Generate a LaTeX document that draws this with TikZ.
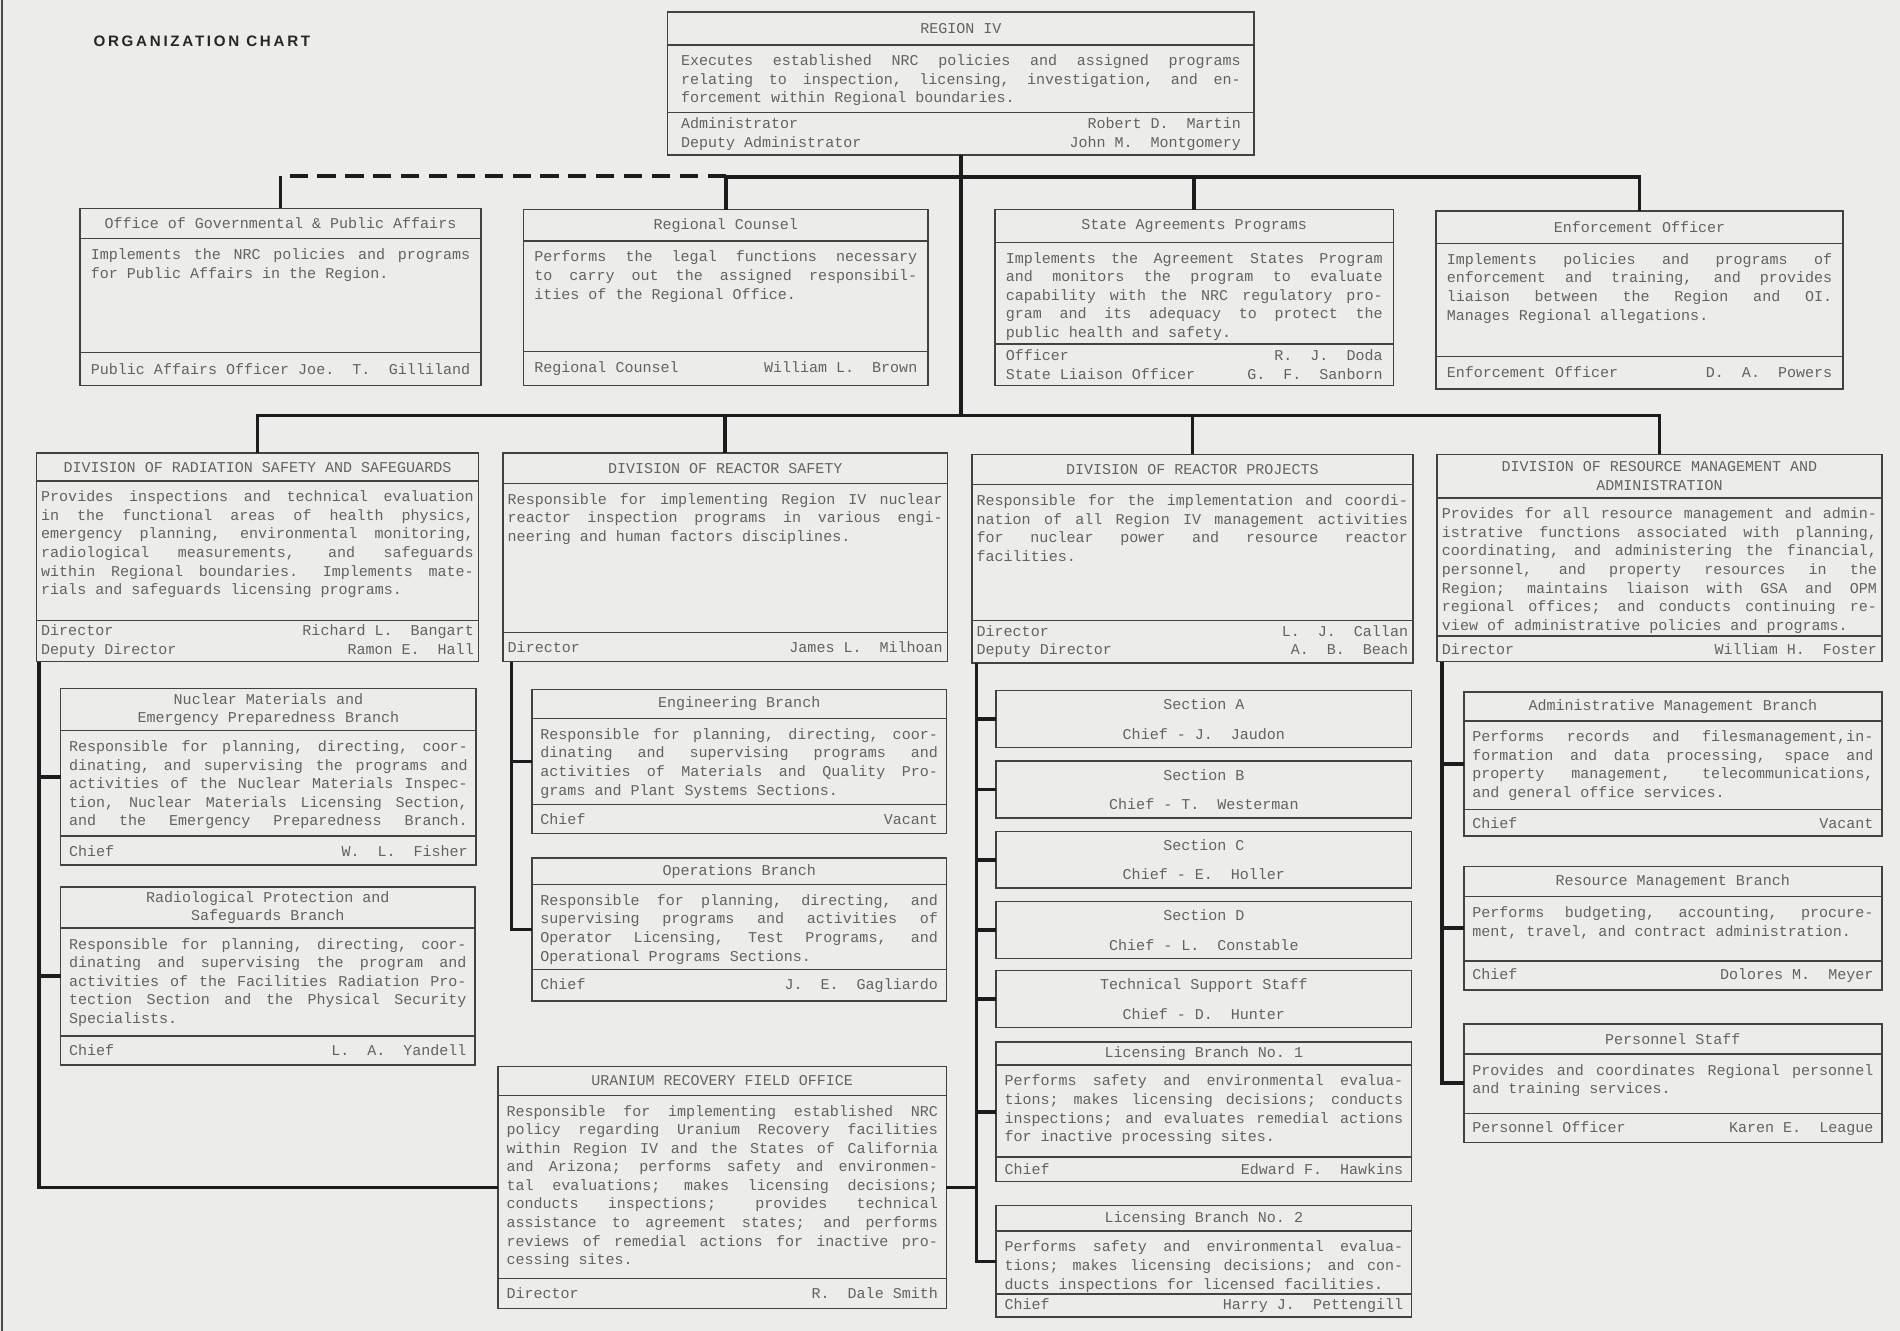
\documentclass[tikz,border=0pt]{standalone}
\usepackage{fontspec}
\usetikzlibrary{positioning,calc}
\newfontfamily\chartmono{Liberation Mono}
\newfontfamily\chartsans{Liberation Sans}[LetterSpace=18]
\definecolor{paper}{RGB}{236,236,234}
\definecolor{inkline}{RGB}{66,66,66}
\definecolor{inktext}{RGB}{98,98,98}
\definecolor{inkconn}{RGB}{28,28,28}
% typewriter spacing: two spaces after a full stop, also after capitals
\count255=`A
\loop \sfcode\count255=1000 \advance\count255 by 1 \ifnum\count255<`[ \repeat
\newcommand{\boxfont}{\chartmono\fontsize{12.4}{15.3}\selectfont\nonfrenchspacing
  \spaceskip=0.6em plus 3em minus 0.05em\relax
  \xspaceskip=1.2em plus 3em minus 0.05em\relax
  \hyphenpenalty=10000\tolerance=10000\relax}
\newcommand{\ttlspace}{\spaceskip=0.6em\relax\xspaceskip=1.2em\relax}
\def\upad{8}
% one unit: name, (x,y) top left, width, title/desc/footer heights, texts
\newcommand{\orgunit}[9]{%
  \pgfmathsetmacro\uH{#4+#5+#6}%
  \pgfmathsetmacro\uT{#3-2*\upad}%
  \node[unitbox, minimum width=#3pt, minimum height=\uH pt] (#1) at #2 {};
  \draw[sepline] ([yshift=-#4]#1.north west) -- ([yshift=-#4]#1.north east);
  \draw[sepline] ([yshift=#6]#1.south west) -- ([yshift=#6]#1.south east);
  \node[ttltext, text width=\uT pt] (#1-t) at ([yshift=-#4/2]#1.north) {\ttlspace #7};
  \node[dsctext, text width=\uT pt] (#1-d) at ([yshift=-#4-8]#1.north) {#8};
  \node[ftrtext, text width=\uT pt] (#1-f) at ([yshift=#6/2]#1.south) {#9};
}

\begin{document}
\begin{tikzpicture}[x=1pt, y=-1pt,
    unitbox/.style={draw=inkline, line width=1.2pt, anchor=north west, inner sep=0pt, outer sep=0pt},
    sepline/.style={draw=inkline, line width=1.2pt},
    ttltext/.style={font=\boxfont, text=inktext, align=center, inner sep=0pt},
    dsctext/.style={font=\boxfont, text=inktext, align=justify, inner sep=0pt, anchor=north},
    ftrtext/.style={font=\boxfont, text=inktext, align=justify, inner sep=0pt},
    secbox/.style={unitbox, font=\boxfont, text=inktext, align=center, minimum width=343pt, minimum height=47pt},
    conn/.style={draw=inkconn, line width=3pt},
    charttitle/.style={font=\chartsans\bfseries\fontsize{12.5}{14}\selectfont, text=black!85, anchor=west, inner sep=0pt}]

  \fill[paper] (0,0) rectangle (1568,1098);
  \useasboundingbox (0,0) rectangle (1568,1098);
  \draw[black!70, line width=1.5pt] (1.5,0) -- (1.5,1098);

  \node[charttitle] (chartttl) at (77,34) {ORGANIZATION CHART};

  % Region
  \def\upad{11}
  \orgunit{rIV}{(551,10)}{484}{27}{56}{35}{REGION IV}
    {Executes established NRC policies and assigned programs\linebreak
     relating to inspection, licensing, investigation, and en-\linebreak
     forcement within Regional boundaries.}
    {Administrator\hfill Robert D. Martin\\Deputy Administrator\hfill John M. Montgomery}

  % Staff offices
  \def\upad{9}
  \orgunit{ogpa}{(66,172)}{331}{25}{94}{27}{Office of Governmental \& Public Affairs}
    {Implements the NRC policies and programs\linebreak
     for Public Affairs in the Region.}
    {Public Affairs Officer Joe. T.\hfill Gilliland}
  \orgunit{rc}{(432,173)}{334}{26}{91}{28}{Regional Counsel}
    {Performs the legal functions necessary\linebreak
     to carry out the assigned responsibil-\linebreak
     ities of the Regional Office.}
    {Regional Counsel\hfill William L. Brown}
  \orgunit{sap}{(821,173)}{329}{27}{84}{34}{State Agreements Programs}
    {Implements the Agreement States Program\linebreak
     and monitors the program to evaluate\linebreak
     capability with the NRC regulatory pro-\linebreak
     gram and its adequacy to protect the\linebreak
     public health and safety.}
    {Officer\hfill R. J. Doda\\State Liaison Officer\hfill G. F. Sanborn}
  \orgunit{enf}{(1185,174)}{336}{27}{93}{27}{Enforcement Officer}
    {Implements policies and programs of\linebreak
     enforcement and training, and provides\linebreak
     liaison between the Region and OI.\linebreak
     Manages Regional allegations.}
    {Enforcement Officer\hfill D. A. Powers}

  % Divisions
  \def\upad{4}
  \orgunit{drss}{(30,374)}{365}{23}{115}{34}{DIVISION OF RADIATION SAFETY AND SAFEGUARDS}
    {Provides inspections and technical evaluation\linebreak
     in the functional areas of health physics,\linebreak
     emergency planning, environmental monitoring,\linebreak
     radiological measurements, and safeguards\linebreak
     within Regional boundaries. Implements mate-\linebreak
     rials and safeguards licensing programs.}
    {Director\hfill Richard L. Bangart\\Deputy Director\hfill Ramon E. Hall}
  \orgunit{drs}{(415,374)}{367}{25}{123}{24}{DIVISION OF REACTOR SAFETY}
    {Responsible for implementing Region IV nuclear\linebreak
     reactor inspection programs in various engi-\linebreak
     neering and human factors disciplines.}
    {Director\hfill James L. Milhoan}
  \orgunit{drp}{(802,375)}{364}{25}{112}{35}{DIVISION OF REACTOR PROJECTS}
    {Responsible for the implementation and coordi-\linebreak
     nation of all Region IV management activities\linebreak
     for nuclear power and resource reactor\linebreak
     facilities.}
    {Director\hfill L. J. Callan\\Deputy Director\hfill A. B. Beach}
  \orgunit{drma}{(1186,375)}{367}{36}{114}{21}{DIVISION OF RESOURCE MANAGEMENT AND\\ADMINISTRATION}
    {Provides for all resource management and admin-\linebreak
     istrative functions associated with planning,\linebreak
     coordinating, and administering the financial,\linebreak
     personnel, and property resources in the\linebreak
     Region; maintains liaison with GSA and OPM\linebreak
     regional offices; and conducts continuing re-\linebreak
     view of administrative policies and programs.}
    {Director\hfill William H. Foster}

  % Branches
  \def\upad{7}
  \orgunit{nmep}{(50,568)}{343}{35}{87}{24}{Nuclear Materials and\\Emergency Preparedness Branch}
    {Responsible for planning, directing, coor-\linebreak
     dinating, and supervising the programs and\linebreak
     activities of the Nuclear Materials Inspec-\linebreak
     tion, Nuclear Materials Licensing Section,\linebreak
     and the Emergency Preparedness Branch.\linebreak\null}
    {Chief\hfill W. L. Fisher}
  \orgunit{rpsb}{(50,732)}{342}{34}{89}{24}{Radiological Protection and\\Safeguards Branch}
    {Responsible for planning, directing, coor-\linebreak
     dinating and supervising the program and\linebreak
     activities of the Facilities Radiation Pro-\linebreak
     tection Section and the Physical Security\linebreak
     Specialists.}
    {Chief\hfill L. A. Yandell}
  \orgunit{eng}{(439,569)}{342}{24}{71}{24}{Engineering Branch}
    {Responsible for planning, directing, coor-\linebreak
     dinating and supervising programs and\linebreak
     activities of Materials and Quality Pro-\linebreak
     grams and Plant Systems Sections.}
    {Chief\hfill Vacant}
  \orgunit{ops}{(439,708)}{342}{22}{70}{26}{Operations Branch}
    {Responsible for planning, directing, and\linebreak
     supervising programs and activities of\linebreak
     Operator Licensing, Test Programs, and\linebreak
     Operational Programs Sections.}
    {Chief\hfill J. E. Gagliardo}
  \orgunit{urfo}{(411,880)}{370}{24}{151}{25}{URANIUM RECOVERY FIELD OFFICE}
    {Responsible for implementing established NRC\linebreak
     policy regarding Uranium Recovery facilities\linebreak
     within Region IV and the States of California\linebreak
     and Arizona; performs safety and environmen-\linebreak
     tal evaluations; makes licensing decisions;\linebreak
     conducts inspections; provides technical\linebreak
     assistance to agreement states; and performs\linebreak
     reviews of remedial actions for inactive pro-\linebreak
     cessing sites.}
    {Director\hfill R. Dale Smith}

  \node[secbox] (secA) at (822,570) {Section A\\[9pt]Chief - J. Jaudon};
  \node[secbox] (secB) at (822,628) {Section B\\[9pt]Chief - T. Westerman};
  \node[secbox] (secC) at (822,686) {Section C\\[9pt]Chief - E. Holler};
  \node[secbox] (secD) at (822,744) {Section D\\[9pt]Chief - L. Constable};
  \node[secbox] (tss) at (822,801) {Technical Support Staff\\[9pt]Chief - D. Hunter};

  \orgunit{lb1}{(822,860)}{343}{19}{76}{20}{Licensing Branch No.\ 1}
    {Performs safety and environmental evalua-\linebreak
     tions; makes licensing decisions; conducts\linebreak
     inspections; and evaluates remedial actions\linebreak
     for inactive processing sites.}
    {Chief\hfill Edward F. Hawkins}
  \orgunit{lb2}{(822,995)}{343}{21}{52}{19}{Licensing Branch No.\ 2}
    {Performs safety and environmental evalua-\linebreak
     tions; makes licensing decisions; and con-\linebreak
     ducts inspections for licensed facilities.}
    {Chief\hfill Harry J. Pettengill}

  \orgunit{amb}{(1208,571)}{345}{24}{73}{22}{Administrative Management Branch}
    {Performs records and filesmanagement,in-\linebreak
     formation and data processing, space and\linebreak
     property management, telecommunications,\linebreak
     and general office services.}
    {Chief\hfill Vacant}
  \orgunit{rmb}{(1208,715)}{345}{25}{53}{24}{Resource Management Branch}
    {Performs budgeting, accounting, procure-\linebreak
     ment, travel, and contract administration.}
    {Chief\hfill Dolores M. Meyer}
  \orgunit{pers}{(1208,845)}{345}{25}{49}{24}{Personnel Staff}
    {Provides and coordinates Regional personnel\linebreak
     and training services.}
    {Personnel Officer\hfill Karen E. League}

  % Connectors: staff level
  \draw[conn] (rIV.south) -- (rIV.south |- 0,343);
  \draw[conn] (rc.north) -- (rc.north |- 0,146) -- (enf.north |- 0,146) -- (enf.north);
  \draw[conn] (sap.north |- 0,146) -- (sap.north);
  \draw[conn, dash pattern=on 15pt off 8pt] (rc.north |- 0,145) -- (ogpa.north |- 0,145);
  \draw[conn] (ogpa.north |- 0,145) -- (ogpa.north);

  % Connectors: divisions
  \draw[conn] (drss.north) -- (drss.north |- 0,343) -- (drma.north |- 0,343) -- (drma.north);
  \draw[conn] (drs.north |- 0,343) -- (drs.north);
  \draw[conn] (drp.north |- 0,343) -- (drp.north);

  % Connectors: branches
  \coordinate (drssL) at ([xshift=2]drss.south west);
  \draw[conn] (drssL) |- (urfo.west);
  \draw[conn] (drssL |- nmep.west) -- (nmep.west);
  \draw[conn] (drssL |- rpsb.west) -- (rpsb.west);

  \coordinate (drsL) at ([xshift=7]drs.south west);
  \draw[conn] (drsL) |- (ops.west);
  \draw[conn] (drsL |- eng.west) -- (eng.west);

  \coordinate (drpL) at ([xshift=4]drp.south west);
  \draw[conn] (drpL) |- (lb2.west);
  \foreach \b in {secA,secB,secC,secD,tss,lb1}
    \draw[conn] (drpL |- \b.west) -- (\b.west);
  \draw[conn] (urfo.east) -- (drpL |- urfo.east);

  \coordinate (drmaL) at ([xshift=4]drma.south west);
  \draw[conn] (drmaL) |- (pers.west);
  \foreach \b in {amb,rmb}
    \draw[conn] (drmaL |- \b.west) -- (\b.west);
\end{tikzpicture}
\end{document}
